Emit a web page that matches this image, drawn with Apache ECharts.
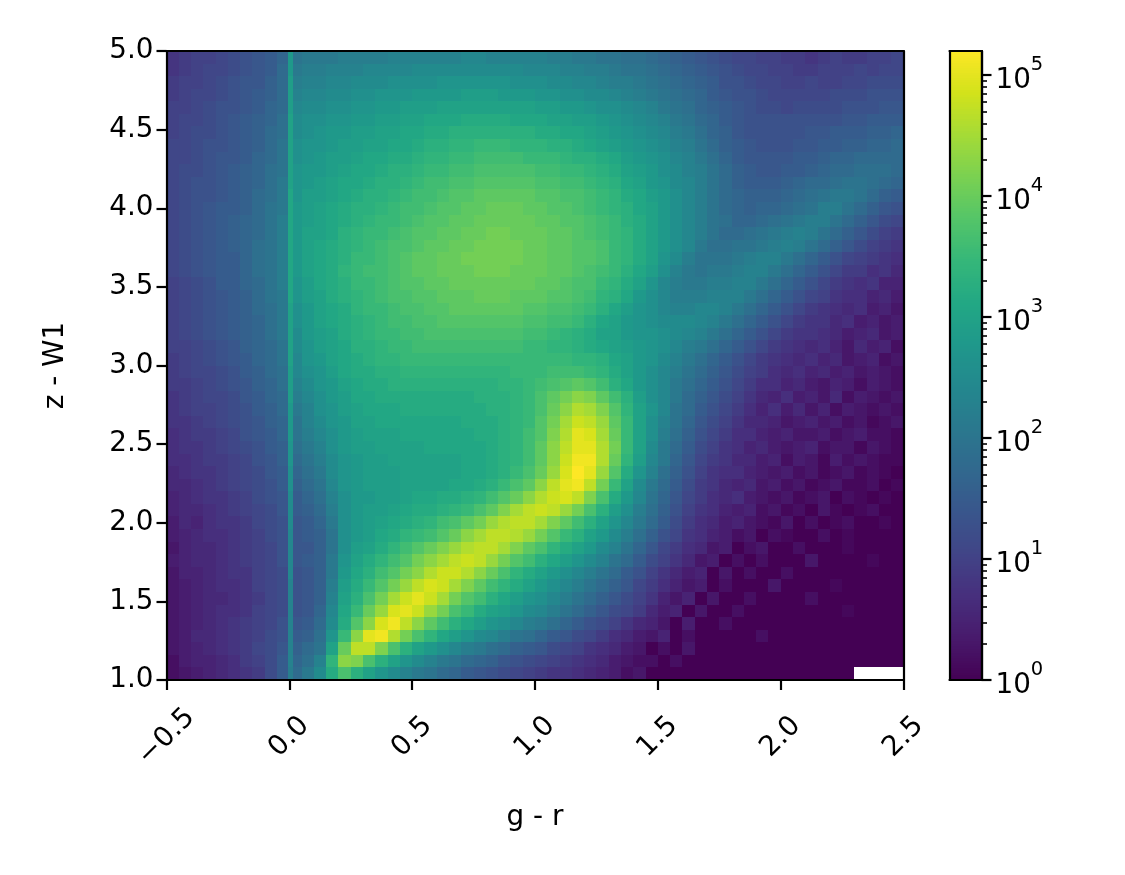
<!DOCTYPE html>
<html>
<head>
<meta charset="utf-8">
<style>html,body{margin:0;padding:0;background:#fff}#c{width:1125px;height:875px}</style>
<script src="https://cdn.jsdelivr.net/npm/echarts@6/dist/echarts.min.js"></script>
</head>
<body>
<div id="c"></div>
<script>
// Axis ranges and histogram bin sizes
const xRange = [-0.5, 2.5];
const yRange = [1, 5];
const xBinWidth = 0.05;
const yBinHeight = 0.08;
const xTicks = [-0.5, 0, 0.5, 1, 1.5, 2, 2.5];
const yTicks = [1, 1.5, 2, 2.5, 3, 3.5, 4, 4.5, 5];
const colorbarMaxLog = 5.2;
const colorbarDecades = [0, 1, 2, 3, 4, 5];
const xLabel = 'g - r';
const yLabel = 'z - W1';
// viridis stops
const viridis = ['#440154','#481a6c','#472f7d','#414487','#39568c','#31688e','#2a788e','#23888e','#1f988b','#22a884','#35b779','#54c568','#7ad151','#a5db36','#d2e21b','#fde725'];

// Estimated log10(count) x 10 per cell, top row (z-W1 near 5) to bottom row (near 1), left to right
const logCountRows = [
[8,9,10,10,11,12,13,14,15,17,20,21,21,21,22,22,22,22,23,23,23,23,23,23,24,24,23,23,23,23,23,22,22,21,21,20,20,19,19,18,17,16,15,14,13,12,11,11,10,10,9,9,8,9,10,9,9,10,10,11],
[8,9,10,11,11,12,13,14,15,18,21,22,22,23,23,23,24,24,24,24,25,25,25,25,25,25,25,25,25,24,24,24,23,23,22,22,21,20,20,19,18,17,16,15,14,13,12,11,11,10,10,9,9,10,10,10,11,10,11,11],
[9,10,10,11,12,13,14,14,16,18,22,23,23,24,24,25,25,25,26,26,26,26,27,27,27,27,27,27,26,26,26,25,25,24,24,23,22,22,21,20,19,18,17,16,15,13,13,12,11,11,10,10,11,10,10,11,11,12,12,12],
[9,10,11,11,12,13,14,15,16,18,23,24,24,25,25,26,26,27,27,27,28,28,28,28,29,29,29,28,28,28,27,27,26,26,25,25,24,23,22,21,20,19,18,17,15,14,13,13,12,11,11,11,11,11,12,12,12,13,13,13],
[10,10,11,12,13,13,14,15,17,18,24,25,25,26,26,27,27,28,28,29,29,29,30,30,30,30,30,30,30,30,29,29,28,28,27,26,26,25,24,23,21,20,19,17,16,15,14,13,12,12,11,12,12,12,12,13,13,13,14,14],
[10,11,11,12,13,14,15,16,17,19,25,26,26,27,27,28,28,29,29,30,30,31,31,31,32,32,32,32,31,31,31,30,30,29,29,28,27,26,25,24,23,21,20,18,17,15,14,13,13,13,13,13,13,13,13,14,14,15,15,15],
[10,11,12,12,13,14,15,16,18,19,25,26,27,28,28,29,29,30,30,31,31,32,32,33,33,33,33,33,33,33,32,32,31,31,30,29,28,27,26,25,24,22,21,19,17,16,14,13,13,13,13,13,14,14,15,15,15,16,16,17],
[11,11,12,13,13,14,15,16,18,20,26,27,27,28,29,29,30,30,31,31,32,33,33,34,34,35,35,35,34,34,34,33,33,32,31,30,29,28,27,26,25,23,22,20,18,16,15,14,13,13,13,14,14,15,15,16,16,17,17,18],
[11,11,12,13,14,14,15,17,18,20,26,27,28,29,29,30,31,31,32,32,33,34,34,35,35,36,36,36,36,35,35,35,34,33,33,32,31,29,28,27,26,24,23,21,19,17,15,14,14,14,14,15,15,16,17,17,18,18,18,18],
[11,12,12,13,14,15,16,17,19,20,27,28,28,29,30,31,31,32,33,33,34,35,35,36,36,37,37,37,37,37,36,36,35,35,34,33,32,30,29,28,26,25,23,22,20,18,16,15,14,14,15,15,16,17,18,18,19,19,19,18],
[11,12,13,13,14,15,16,17,19,21,27,28,29,30,31,31,32,33,33,34,35,36,36,37,37,38,38,38,38,38,37,37,36,36,35,34,33,31,30,28,27,25,24,22,20,18,16,15,15,15,16,17,18,18,19,20,20,19,18,17],
[11,12,13,13,14,15,16,18,19,21,27,29,29,30,31,32,33,33,34,35,36,36,37,38,38,39,39,39,39,39,38,38,37,37,36,35,34,32,31,29,28,26,24,22,20,18,17,16,16,16,17,18,19,20,21,21,20,18,16,15],
[11,12,13,14,15,15,16,18,20,21,28,29,30,31,32,33,33,34,35,36,36,37,38,38,39,39,40,40,40,39,39,38,38,37,36,35,34,33,31,30,28,26,24,22,20,18,17,16,17,17,18,19,20,22,22,20,18,16,14,13],
[11,12,13,14,15,16,17,18,20,22,28,29,30,31,32,33,34,35,35,36,37,38,38,39,39,40,40,40,40,40,39,39,38,38,37,36,35,33,32,30,28,26,24,22,20,19,17,17,18,19,20,21,22,22,20,18,16,14,12,11],
[11,12,13,14,15,16,17,18,20,22,28,30,30,31,33,34,35,35,36,37,38,38,39,39,40,40,41,41,40,40,40,39,39,38,37,36,35,34,32,30,28,26,24,22,20,18,18,19,20,21,22,23,22,20,18,16,14,12,10,9],
[11,12,13,14,15,16,17,19,20,22,28,30,31,32,33,34,35,36,37,37,38,39,39,40,40,41,41,41,41,40,40,39,39,38,38,37,35,34,32,30,28,26,24,21,19,19,20,20,21,22,23,22,20,18,16,14,12,10,9,8],
[11,12,13,14,15,15,17,19,20,22,28,30,31,32,33,35,35,36,37,38,39,39,40,40,41,41,41,41,41,40,40,39,39,38,38,37,35,34,32,30,27,25,22,20,20,20,21,22,23,23,21,19,17,15,13,11,10,9,8,7],
[11,12,13,14,15,15,17,19,20,22,28,30,31,32,34,35,36,36,37,38,39,39,40,40,40,41,41,41,40,40,40,39,39,38,37,36,35,33,31,29,26,23,21,20,21,21,22,23,23,21,19,17,15,13,11,9,9,7,8,6],
[10,11,12,13,15,15,17,18,20,22,27,29,31,32,33,35,35,36,37,38,38,39,39,40,40,40,40,40,40,40,39,39,38,37,37,35,34,32,30,27,24,22,21,21,22,22,23,23,21,19,17,15,13,11,9,8,7,8,5,5],
[10,11,12,13,14,15,16,18,20,21,27,29,30,32,33,34,35,36,37,37,38,38,39,39,39,40,40,40,39,39,39,38,38,37,36,34,33,31,28,26,24,22,22,22,23,23,23,21,19,17,15,13,11,10,8,7,7,5,6,4],
[10,11,12,13,14,15,16,18,19,21,26,28,30,31,32,34,35,35,36,37,37,38,38,39,39,39,39,39,39,38,38,37,37,36,35,33,31,29,27,26,24,23,23,24,24,23,21,19,17,15,13,11,9,8,7,6,7,4,5,3],
[10,11,12,13,14,15,16,17,19,21,26,28,30,31,32,33,34,35,36,36,37,37,38,38,38,38,38,38,38,37,37,36,36,35,33,31,30,28,27,26,25,25,25,24,23,21,19,17,15,13,11,9,8,8,6,7,4,5,3,4],
[10,11,12,13,14,15,16,17,19,21,25,28,29,30,32,33,34,35,35,36,36,37,37,37,37,37,37,37,37,36,36,35,34,33,32,30,30,28,27,27,26,25,24,23,21,19,17,15,13,11,9,8,8,7,6,4,5,6,3,4],
[10,10,11,12,13,14,16,17,18,20,25,27,29,30,31,33,33,34,35,35,36,36,36,36,36,36,36,36,36,35,35,34,34,33,32,31,30,29,28,27,26,24,22,21,19,17,15,13,11,9,8,7,6,7,5,3,6,4,5,2],
[9,10,11,12,13,14,15,17,18,20,24,27,28,30,31,32,33,34,34,35,35,35,35,35,35,35,35,35,35,35,35,35,35,34,34,33,31,30,28,27,25,23,21,19,17,15,13,11,9,8,7,6,7,5,6,3,4,5,2,3],
[9,10,11,11,12,13,15,16,18,19,24,26,27,29,31,32,32,33,33,34,34,34,34,34,34,34,34,34,35,35,35,36,36,36,35,34,32,30,28,26,24,22,20,18,16,14,12,10,9,7,6,7,5,6,4,5,3,4,3,2],
[9,9,10,11,12,13,14,16,17,19,23,25,27,28,30,31,32,32,33,33,33,33,33,33,33,33,33,34,34,35,36,37,38,39,38,36,33,31,28,26,24,21,19,17,15,13,11,9,7,7,5,6,4,3,5,4,2,4,3,2],
[8,9,10,11,11,12,14,15,17,18,22,24,26,28,29,31,31,32,32,32,32,32,32,32,32,33,33,33,34,35,37,39,41,43,42,39,36,33,29,26,24,21,18,16,14,12,10,8,6,5,7,4,5,3,6,2,4,3,2,3],
[8,9,10,10,11,12,13,15,16,18,21,23,26,27,29,30,31,31,31,32,32,32,32,32,32,32,33,33,34,35,37,40,43,46,45,42,38,34,30,27,24,20,18,15,13,11,9,7,5,7,4,6,3,5,2,4,3,2,3,2],
[8,8,9,10,11,12,13,14,16,17,20,23,25,27,28,30,30,31,31,31,31,31,31,31,32,32,32,33,34,35,38,41,45,48,47,44,39,35,30,26,23,20,17,14,12,10,8,6,6,5,3,4,5,3,4,2,3,1,2,3],
[7,8,9,9,10,11,13,14,15,17,20,22,24,26,28,29,30,30,30,31,31,31,31,31,31,32,32,33,34,36,38,42,46,50,49,45,40,35,30,26,22,19,16,13,11,9,7,7,5,4,5,3,3,4,2,3,4,2,2,1],
[7,8,8,9,10,11,12,13,15,16,19,21,23,26,28,29,29,30,30,30,30,31,31,31,31,31,32,33,34,36,39,43,47,50,50,46,41,35,30,25,21,18,15,12,10,8,7,5,6,4,3,4,5,2,3,3,1,3,2,1],
[7,7,8,9,9,10,11,13,14,16,18,20,22,25,27,28,29,29,30,30,30,30,30,30,31,31,32,33,34,36,39,43,48,51,51,46,40,34,29,24,21,17,14,11,9,8,6,6,4,5,2,4,3,1,4,2,3,2,1,1],
[6,7,8,8,9,10,11,12,14,15,17,19,21,25,27,28,29,29,29,30,30,30,30,30,31,31,32,33,35,37,40,44,49,52,50,44,38,32,27,23,19,16,13,10,8,7,7,5,4,3,4,2,3,1,2,3,1,2,1,0],
[6,6,7,8,9,10,11,12,13,15,16,18,20,24,27,28,29,29,29,30,30,30,30,31,31,32,33,35,37,39,43,47,50,51,47,41,35,30,25,21,18,15,12,9,8,6,5,6,3,4,2,3,1,2,3,1,1,2,0,1],
[5,6,7,8,8,9,10,12,13,14,15,17,19,23,26,28,28,29,29,30,31,31,32,32,33,34,36,38,40,43,46,48,49,47,42,37,32,28,24,20,17,14,11,9,7,6,7,4,3,2,3,1,2,3,0,2,1,0,1,0],
[5,6,6,7,8,9,10,11,12,14,15,16,18,22,26,28,29,29,30,31,32,32,33,34,35,37,39,42,45,47,48,47,44,41,37,33,29,26,22,19,16,13,10,8,7,5,4,5,2,3,1,2,0,3,1,0,1,2,0,0],
[4,6,5,7,8,8,9,11,12,13,14,15,17,21,26,28,29,30,31,32,33,34,36,37,39,41,44,46,47,47,45,42,39,36,33,30,27,24,21,18,15,12,9,7,6,4,5,3,2,1,3,0,2,0,1,2,0,0,1,0],
[4,5,6,7,7,8,9,10,12,13,14,15,16,20,26,28,29,31,32,34,35,36,38,40,43,45,47,47,46,44,41,38,35,33,30,28,25,22,19,16,13,11,8,7,5,4,2,3,0,2,1,0,0,2,0,1,0,0,0,0],
[3,5,6,6,7,8,9,10,11,13,14,14,16,20,26,29,30,32,34,36,38,40,42,44,46,47,47,45,42,39,37,34,32,30,28,25,23,20,17,14,11,9,7,6,3,4,0,2,3,0,0,2,0,0,0,1,0,0,0,0],
[4,5,6,6,7,8,9,10,11,13,14,15,16,21,27,30,32,34,36,38,41,43,45,47,48,47,44,41,38,36,33,31,29,27,25,23,20,18,15,12,10,8,6,3,4,0,2,0,2,0,0,0,3,0,0,0,0,1,0,0],
[3,5,5,6,7,8,8,10,11,12,13,14,16,21,28,31,33,36,38,41,43,46,48,48,46,43,40,37,34,32,30,28,26,24,22,20,18,15,13,10,8,6,4,5,0,3,0,2,0,0,2,0,0,0,0,0,0,0,0,0],
[3,4,5,6,7,7,8,10,11,12,13,14,16,22,29,32,35,38,41,44,47,49,48,45,42,39,36,34,32,30,28,26,24,22,20,18,16,14,11,9,7,5,3,4,0,2,0,0,0,3,0,0,0,0,1,0,0,0,0,0],
[3,4,5,6,6,7,8,9,11,12,13,14,16,23,30,33,37,41,45,48,50,48,45,41,38,36,33,31,29,27,26,24,22,20,18,16,14,12,10,8,5,3,5,0,3,0,0,2,0,0,0,0,2,0,0,0,0,0,0,0],
[3,4,5,6,7,7,8,10,11,12,13,14,17,24,31,35,40,44,49,50,48,44,41,37,35,32,30,29,27,25,24,22,20,18,16,14,12,11,9,6,4,5,0,3,0,0,2,0,0,0,0,0,0,0,0,1,0,0,0,0],
[3,4,5,6,7,8,9,10,11,13,14,15,18,25,32,38,43,49,51,47,43,39,36,33,31,29,27,26,24,22,21,19,17,15,13,12,10,8,6,5,3,0,4,0,0,2,0,0,0,0,0,0,0,0,0,0,0,0,0,0],
[3,4,6,6,7,8,9,10,12,13,15,16,19,27,35,43,50,51,46,41,37,34,31,29,27,25,24,22,20,19,17,15,14,12,11,9,7,6,4,3,5,0,2,0,0,0,0,0,2,0,0,0,0,0,0,0,0,0,0,0],
[3,4,5,6,7,8,9,11,12,14,16,18,20,30,40,47,47,42,37,33,30,28,26,24,22,21,19,18,16,15,14,12,11,10,8,7,6,4,3,0,2,0,3,0,0,0,0,0,0,0,0,0,0,0,0,0,0,0,0,0],
[2,4,5,5,6,7,9,10,12,15,17,19,23,34,43,42,37,33,30,27,25,23,21,20,18,17,16,14,13,12,11,10,9,8,7,6,4,3,2,2,0,2,0,0,0,0,0,0,0,0,0,0,0,0,0,0,0,0,0,0],
[2,3,4,5,6,7,8,9,12,15,18,21,25,32,37,33,30,27,25,23,21,20,18,17,15,14,13,12,11,10,9,8,8,7,6,5,4,2,3,0,0,0,0,0,0,0,0,0,0,0,0,0,0,0,0,0]
];
// The narrow bright column at g-r = 0, same row order and units
const zeroColumnEdges = [-0.004, 0.016];
const zeroColumnValues = [28,28,29,29,29,30,30,30,30,30,30,31,31,31,31,31,31,31,31,31,30,30,30,30,30,29,29,29,28,28,28,27,27,26,26,25,25,25,24,24,24,24,23,23,23,23,23,23,23,22];

const cells = [];
logCountRows.forEach((row, r) => {
  const yTop = yRange[1] - r * yBinHeight;
  row.forEach((v, c) => {
    const x0 = xRange[0] + c * xBinWidth;
    cells.push([x0, yTop - yBinHeight, x0 + xBinWidth, yTop, v / 10]);
  });
});
zeroColumnValues.forEach((v, r) => {
  const yTop = yRange[1] - r * yBinHeight;
  cells.push([zeroColumnEdges[0], yTop - yBinHeight, zeroColumnEdges[1], yTop, v / 10]);
});

const rampCells = [];
for (let k = 0; k < 260; k++) {
  const a = k / 260 * colorbarMaxLog, b = (k + 1) / 260 * colorbarMaxLog;
  rampCells.push([0, a, 1, b, (a + b) / 2]);
}

const minorLogTicks = [];
for (let d = 0; d <= 5; d++) {
  for (let m = 2; m <= 9; m++) {
    const l = d + Math.log10(m);
    if (l <= colorbarMaxLog) minorLogTicks.push(l);
  }
}

function renderCell(params, api) {
  const p0 = api.coord([api.value(0), api.value(3)]);
  const p1 = api.coord([api.value(2), api.value(1)]);
  const x = Math.round(p0[0]), y = Math.round(p0[1]);
  return {
    type: 'rect',
    shape: { x: x, y: y, width: Math.round(p1[0]) - x, height: Math.round(p1[1]) - y },
    style: { fill: api.visual('color') }
  };
}

const FONT = 'DejaVu Sans';
const lineStyle = { color: '#000', width: 2.2 };
const frame = (extra) => Object.assign({
  show: true, axisLine: { show: true, onZero: false, lineStyle }, axisTick: { show: false },
  axisLabel: { show: false }, splitLine: { show: false }, z: 10
}, extra);
const majorTick = { show: true, length: 10, lineStyle: { color: '#000', width: 2.2 } };

const chart = echarts.init(document.getElementById('c'), null, { renderer: 'canvas' });
chart.setOption({
  animation: false,
  backgroundColor: '#fff',
  textStyle: { fontFamily: FONT },
  grid: [
    { left: 166.5, top: 51, width: 737, height: 629, containLabel: false },
    { left: 949.5, top: 51, width: 32, height: 629, containLabel: false }
  ],
  xAxis: [
    frame({ type: 'value', gridIndex: 0, position: 'bottom', min: xRange[0], max: xRange[1], interval: 0.5,
      axisTick: majorTick,
      axisLabel: { show: true, rotate: 45, align: 'center', verticalAlign: 'middle', margin: 57, fontSize: 27.8, color: '#000', fontFamily: FONT,
        formatter: v => v.toFixed(1).replace('-', '\u2212') },
      name: xLabel, nameLocation: 'middle', nameGap: 138,
      nameTextStyle: { fontSize: 27.8, color: '#000', fontFamily: FONT, verticalAlign: 'middle' } }),
    frame({ type: 'value', gridIndex: 0, position: 'top', min: xRange[0], max: xRange[1] }),
    frame({ type: 'value', gridIndex: 1, position: 'bottom', min: 0, max: 1 }),
    frame({ type: 'value', gridIndex: 1, position: 'top', min: 0, max: 1 })
  ],
  yAxis: [
    frame({ type: 'value', gridIndex: 0, position: 'left', min: yRange[0], max: yRange[1], interval: 0.5,
      axisTick: majorTick,
      axisLabel: { show: true, margin: 13, fontSize: 27.8, color: '#000', fontFamily: FONT, formatter: v => v.toFixed(1) },
      name: yLabel, nameLocation: 'middle', nameGap: 111, nameRotate: 90,
      nameTextStyle: { fontSize: 27.8, color: '#000', fontFamily: FONT, verticalAlign: 'middle' } }),
    frame({ type: 'value', gridIndex: 0, position: 'right', min: yRange[0], max: yRange[1] }),
    frame({ type: 'value', gridIndex: 1, position: 'left', min: 0, max: colorbarMaxLog }),
    frame({ type: 'value', gridIndex: 1, position: 'right', min: 0, max: colorbarMaxLog,
      axisTick: { show: true, length: 10, lineStyle: { color: '#000', width: 2.2 }, customValues: colorbarDecades },
      axisLabel: { show: true, margin: 14, color: '#000', fontFamily: FONT, customValues: colorbarDecades,
        formatter: v => '{b|10}{s|' + Math.round(v) + '}',
        rich: { b: { fontSize: 27.8, fontFamily: FONT, color: '#000', lineHeight: 40, verticalAlign: 'bottom' },
                s: { fontSize: 19.5, fontFamily: FONT, color: '#000', lineHeight: 40, verticalAlign: 'top' } } } }),
    frame({ type: 'value', gridIndex: 1, position: 'right', min: 0, max: colorbarMaxLog,
      axisTick: { show: true, length: 5.5, lineStyle: { color: '#000', width: 1.6 }, customValues: minorLogTicks },
      axisLabel: { show: false, customValues: minorLogTicks } })
  ],
  visualMap: {
    show: false, type: 'continuous', dimension: 4, min: 0, max: colorbarMaxLog,
    seriesIndex: [0, 1], inRange: { color: viridis }
  },
  series: [
    { type: 'custom', xAxisIndex: 0, yAxisIndex: 0, clip: true, silent: true, progressive: 0,
      dimensions: ['x0', 'y0', 'x1', 'y1', 'logCount'], encode: { x: [0, 2], y: [1, 3] },
      renderItem: renderCell, data: cells },
    { type: 'custom', xAxisIndex: 2, yAxisIndex: 2, clip: true, silent: true, progressive: 0,
      dimensions: ['x0', 'y0', 'x1', 'y1', 'logCount'], encode: { x: [0, 2], y: [1, 3] },
      renderItem: renderCell, data: rampCells }
  ]
});
</script>
</body>
</html>
